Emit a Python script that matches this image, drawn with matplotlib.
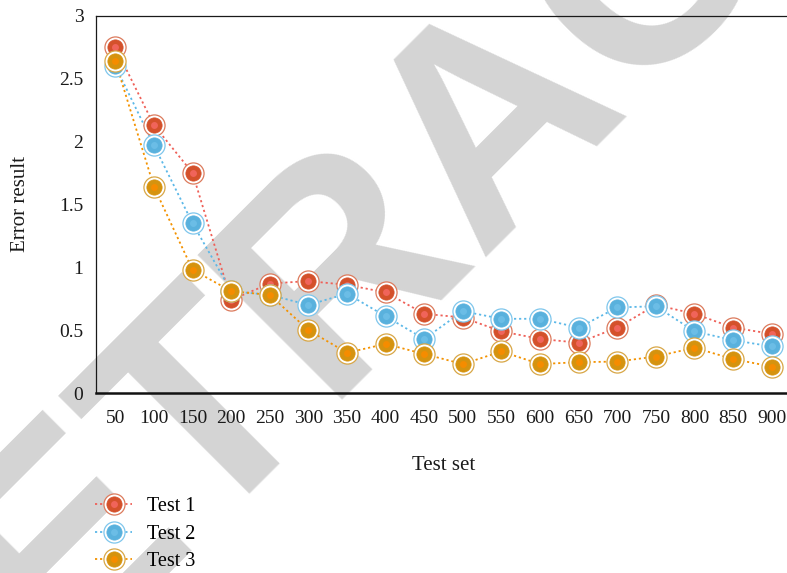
import matplotlib
matplotlib.use('Agg')
import matplotlib.pyplot as plt
from matplotlib.lines import Line2D

plt.rcParams['font.family'] = ['Liberation Serif', 'DejaVu Serif']

# test set sizes and error results per run
test_sets = ['50', '100', '150', '200', '250', '300', '350', '400', '450',
             '500', '550', '600', '650', '700', '750', '800', '850', '900']
test1 = [2.75, 2.13, 1.75, 0.74, 0.87, 0.89, 0.86, 0.80, 0.63,
         0.60, 0.49, 0.43, 0.40, 0.52, 0.70, 0.63, 0.52, 0.47]
test2 = [2.60, 1.97, 1.35, 0.81, 0.78, 0.70, 0.79, 0.61, 0.43,
         0.65, 0.59, 0.59, 0.52, 0.68, 0.69, 0.49, 0.42, 0.37]
test3 = [2.64, 1.64, 0.98, 0.81, 0.78, 0.50, 0.32, 0.39, 0.31,
         0.23, 0.33, 0.23, 0.245, 0.25, 0.29, 0.36, 0.27, 0.21]
series_names = ['Test 1', 'Test 2', 'Test 3']

# (line, ring, fill, centre dot)
styles = [
    ('#EF6058', '#DC7A5C', '#D4512B', '#F0645A'),
    ('#5BB8E8', '#7EC6EC', '#59B1DD', '#6BBDE6'),
    ('#F39200', '#D8A645', '#D5930F', '#F58C00'),
]

fig = plt.figure(figsize=(7.87, 5.73), dpi=100)

# watermark behind the plot
fig.text(0.700, 0.700, 'RETRACTED', family='Liberation Sans', weight='bold',
         fontsize=214, color='#d4d4d4', rotation=45, rotation_mode='anchor',
         ha='center', va='baseline', zorder=-1)

ax = fig.add_axes([96 / 787, 180 / 573, 695 / 787, 377.3 / 573])
ax.set_facecolor('none')

handles = []
for vals, name, (lc, rc, fc, cc) in zip([test1, test2, test3], series_names, styles):
    ax.plot(test_sets, vals, color=lc, lw=1.3, linestyle=(0, (1.2, 1.6)), zorder=2)
    ring, = ax.plot(test_sets, vals, ls='none', marker='o', ms=15.2,
                    mfc='white', mec=rc, mew=0.9, zorder=3)
    body, = ax.plot(test_sets, vals, ls='none', marker='o', ms=11.0,
                    mfc=fc, mec=fc, mew=0.5, zorder=3)
    dot, = ax.plot(test_sets, vals, ls='none', marker='o', ms=5.0,
                   mfc=cc, mec=cc, mew=0, zorder=3)
    line = Line2D([], [], color=lc, lw=1.3, linestyle=(0, (1.2, 1.6)))
    handles.append((line, ring, body, dot))

ax.set_xlim(-0.5, 17.5)
ax.set_ylim(0, 3)
ax.set_yticks([0, 0.5, 1, 1.5, 2, 2.5, 3])
ax.set_yticklabels(['0', '0.5', '1', '1.5', '2', '2.5', '3'])
ax.tick_params(axis='both', length=0, labelsize=14, labelcolor='#1a1a1a')
ax.tick_params(axis='x', pad=12)
ax.tick_params(axis='y', pad=9)

for side in ['left', 'top']:
    ax.spines[side].set_linewidth(0.9)
    ax.spines[side].set_color('#1a1a1a')
ax.spines['bottom'].set_linewidth(1.8)
ax.spines['bottom'].set_color('#111111')
ax.spines['right'].set_visible(False)

ax.set_xlabel('Test set', fontsize=15, color='#1a1a1a', labelpad=21)
ax.set_ylabel('Error result', fontsize=15, color='#1a1a1a', labelpad=21)

ax.legend(handles, series_names, loc='upper left',
          bbox_to_anchor=(95 / 787, 1 - 497 / 573), bbox_transform=fig.transFigure,
          frameon=False, fontsize=14.5, handlelength=1.85, handletextpad=0.75,
          labelspacing=0.42, borderpad=0, borderaxespad=0, numpoints=1)

fig.savefig('out.png', dpi=100)
